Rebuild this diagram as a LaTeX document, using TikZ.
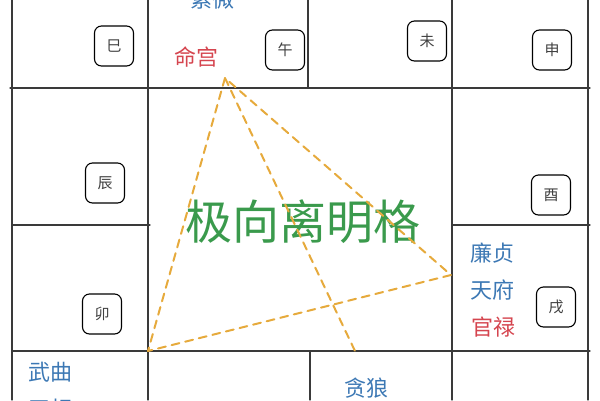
\documentclass[tikz,border=0pt]{standalone}
\usepackage{fontspec}
\setmainfont{Noto Sans CJK SC}
\usetikzlibrary{arrows}
\definecolor{gridgray}{HTML}{3A3A3A}
\definecolor{starblue}{HTML}{3C78B4}
\definecolor{gongred}{HTML}{D5454F}
\definecolor{gejugreen}{HTML}{3A9A4C}
\definecolor{linkorange}{HTML}{E6AA3C}
\begin{document}
\begin{tikzpicture}[x=1pt,y=-1pt,line cap=round,line join=round,
  grid/.style={line width=1.3pt,color=gridgray},
  zhi/.style={draw=black,rounded corners=7pt,line width=1.1pt,minimum width=39pt,minimum height=40pt,font=\fontsize{15}{15}\selectfont,text=darkgray},
  star/.style={inner sep=0pt,font=\fontsize{22}{22}\selectfont,text=starblue},
  gong/.style={star,text=gongred},
  link/.style={dash pattern=on 8pt off 6pt,line width=2pt,color=linkorange}]
        \useasboundingbox (0,0) rectangle (600,400);
        % palace grid
        \draw[grid] (12,0) -- (12,400);
        \draw[grid] (148,0) -- (148,400);
        \draw[grid] (308,0) -- (308,88);
        \draw[grid] (310,351) -- (310,400);
        \draw[grid] (452,0) -- (452,400);
        \draw[grid] (588,0) -- (588,400);
        \draw[grid] (10,88) -- (590,88);
        \draw[grid] (12,225) -- (150,225);
        \draw[grid] (452,225) -- (590,225);
        \draw[grid] (12,351) -- (590,351);
        % earthly branches
        \node[zhi] (si) at (114,46) {巳};
        \node[zhi] (wu) at (285,50) {午};
        \node[zhi] (wei) at (427,41) {未};
        \node[zhi] (shen) at (552,50) {申};
        \node[zhi] (chen) at (105,183) {辰};
        \node[zhi] (you) at (551,195) {酉};
        \node[zhi] (mao) at (102,314) {卯};
        \node[zhi] (xu) at (556,307) {戌};
        % stars and palaces
        \node[star] (ziwei) at (212,-1) {紫微};
        \node[gong] (minggong) at (196,57) {命宫};
        \node[star] (lianzhen) at (492,253) {廉贞};
        \node[star] (tianfu) at (492,290) {天府};
        \node[gong] (guanlu) at (493,327) {官禄};
        \node[star] (wuqu) at (50,372) {武曲};
        \node[star] (tianxiang) at (50,409) {天相};
        \node[star] (tanlang) at (366,388) {贪狼};
        \node[font=\fontsize{47}{47}\selectfont,text=gejugreen] (geju) at (303,222) {极向离明格};
        % san fang si zheng
        \coordinate (ming) at (225,78);
        \coordinate (cai) at (148,351);
        \coordinate (guan) at (451,275);
        \coordinate (qian) at (355,351);
        \draw[link] (ming) -- (cai) -- (guan) -- cycle;
        \draw[link] (ming) -- (qian);
\end{tikzpicture}
\end{document}
